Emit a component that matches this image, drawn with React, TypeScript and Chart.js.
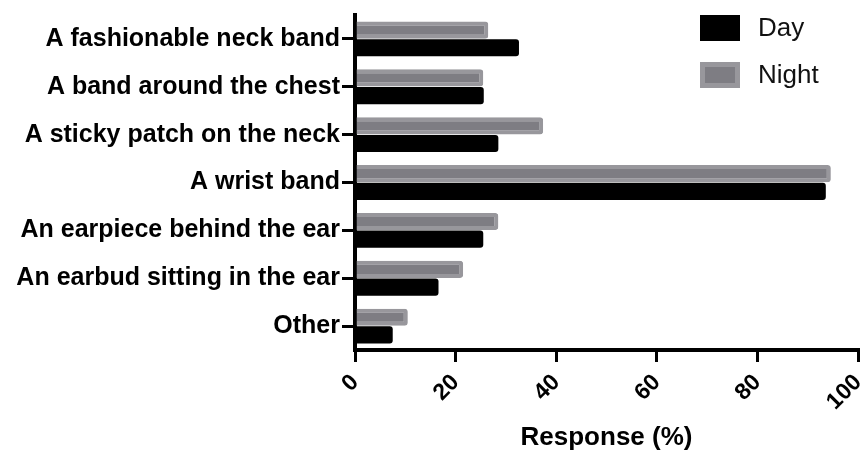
import React, { useEffect, useRef } from "react";
import { Chart, registerables } from "chart.js";

Chart.register(...registerables);

const categories = [
  "A fashionable neck band",
  "A band around the chest",
  "A sticky patch on the neck",
  "A wrist band",
  "An earpiece behind the ear",
  "An earbud sitting in the ear",
  "Other",
];
const nightValues = [26.5, 25.5, 37.4, 94.6, 28.5, 21.5, 10.5];
const dayValues = [32.6, 25.6, 28.5, 93.6, 25.5, 16.6, 7.5];
const xTicks = [0, 20, 40, 60, 80, 100];

const FONT = "'Liberation Sans', Arial, Helvetica, sans-serif";

const legendPlugin = {
  id: "customLegend",
  afterDraw(chart: any) {
    const ctx = chart.ctx;
    const ds = chart.data.datasets.slice().reverse();
    const x0 = 700;
    let y0 = 15;
    ctx.save();
    ds.forEach((d: any) => {
      const w = 40;
      const h = 26;
      ctx.fillStyle = d.borderColor;
      ctx.fillRect(x0, y0, w, h);
      const bw = d.legendInset || 0;
      if (bw > 0) {
        ctx.fillStyle = d.backgroundColor;
        ctx.fillRect(x0 + bw, y0 + bw, w - 2 * bw, h - 2 * bw);
      }
      ctx.fillStyle = "#111";
      ctx.font = `26px ${FONT}`;
      ctx.textBaseline = "middle";
      ctx.textAlign = "left";
      ctx.fillText(d.label, x0 + 58, y0 + h / 2 + 1);
      y0 += 47;
    });
    ctx.restore();
  },
};

export default function App() {
  const ref = useRef<HTMLCanvasElement | null>(null);
  useEffect(() => {
    if (!ref.current) return;
    const chart = new Chart(ref.current, {
      type: "bar",
      data: {
        labels: categories,
        datasets: [
          {
            label: "Night",
            data: nightValues,
            backgroundColor: "#7e7d83",
            borderColor: "#98979c",
            borderWidth: 4,
            borderRadius: 3,
            borderSkipped: "start",
            legendInset: 5,
            categoryPercentage: 0.74,
            barPercentage: 0.97,
          } as any,
          {
            label: "Day",
            data: dayValues,
            backgroundColor: "#000000",
            borderColor: "#000000",
            borderWidth: 0,
            borderRadius: 3,
            legendInset: 0,
            categoryPercentage: 0.74,
            barPercentage: 0.97,
          } as any,
        ],
      },
      options: {
        indexAxis: "y",
        responsive: false,
        animation: false,
        layout: { padding: { top: 15, right: 3, left: 0, bottom: 0 } },
        plugins: {
          legend: { display: false },
          tooltip: { enabled: false },
        },
        scales: {
          x: {
            type: "linear",
            min: 0,
            max: 100,
            afterBuildTicks(scale: any) {
              scale.ticks = xTicks.map((v) => ({ value: v }));
            },
            afterFit(scale: any) {
              scale.height = 104;
              scale.paddingLeft = 0;
              scale.paddingRight = 3;
            },
            border: { display: true, color: "#000", width: 4 },
            grid: {
              display: true,
              drawOnChartArea: false,
              drawTicks: true,
              tickLength: 12,
              lineWidth: 3,
              color: "#000",
            },
            ticks: {
              minRotation: 45,
              maxRotation: 45,
              padding: 7,
              color: "#000",
              font: { family: FONT, size: 23, weight: "bold" },
            },
            title: {
              display: true,
              text: "Response (%)",
              color: "#000",
              font: { family: FONT, size: 26, weight: "bold" },
              padding: { top: 0, bottom: 1 },
            },
          },
          y: {
            type: "category",
            offset: true,
            afterFit(scale: any) {
              scale.width = 355;
              scale.paddingTop = 0;
              scale.paddingBottom = 0;
            },
            border: { display: true, color: "#000", width: 4 },
            grid: {
              display: true,
              offset: false,
              drawOnChartArea: false,
              drawTicks: true,
              tickLength: 13,
              lineWidth: 3,
              color: "#000",
            },
            ticks: {
              padding: 2,
              color: "#000",
              font: { family: FONT, size: 25, weight: "bold" },
            },
          },
        },
      } as any,
      plugins: [legendPlugin],
    });
    return () => chart.destroy();
  }, []);
  return (
    <div style={{ position: "fixed", left: 0, top: 0, width: 861, height: 454, background: "#fff" }}>
      <canvas ref={ref} width={861} height={454} style={{ display: "block" }} />
    </div>
  );
}
